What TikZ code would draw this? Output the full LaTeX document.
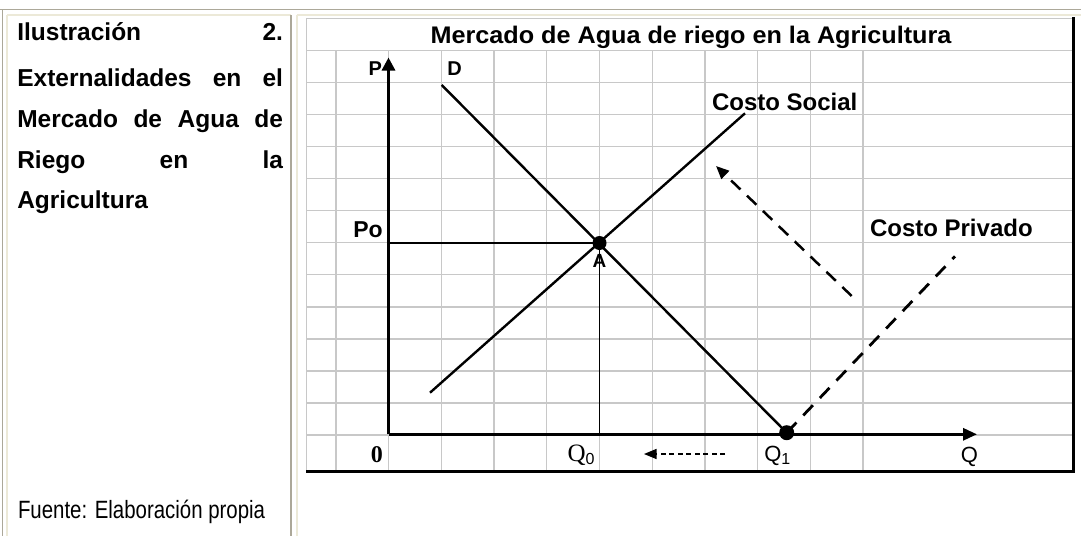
\documentclass[tikz,border=0pt]{standalone}
\usepackage{fontspec}
\usepackage{graphicx}
\setmainfont{Liberation Sans}
\newfontfamily\timesf{Liberation Serif}
\usetikzlibrary{arrows.meta}
\definecolor{tblgray}{RGB}{172,168,153}
\definecolor{tblcream}{RGB}{236,233,216}
\definecolor{gridgray}{RGB}{200,200,200}
\tikzset{
  txt/.style={inner sep=0pt, outer sep=0pt},
  headtxt/.style={txt, anchor=base west, font=\fontsize{24.5}{28}\selectfont\bfseries},
  chartlbl/.style={txt, font=\fontsize{24}{28}\selectfont\bfseries},
  axlbl/.style={txt, anchor=base, font=\fontsize{20}{24}\selectfont\bfseries},
  gridline/.style={gridgray, line width=1.3pt},
  axisline/.style={black, line width=3pt},
  curveline/.style={black, line width=2.4pt},
  guideline/.style={black, line width=1.3pt},
  bigdash/.style={black, line width=2.8pt, dash pattern=on 14pt off 10pt},
  smalldash/.style={black, line width=1.3pt, dash pattern=on 5pt off 3.5pt},
  dot/.style={circle, fill=black, inner sep=0pt},
}
\begin{document}
\begin{tikzpicture}[x=1pt,y=-1pt]
\useasboundingbox (0,0) rectangle (1081,536);
\fill[white] (0,0) rectangle (1081,536);
% table borders
\draw[tblgray, line width=1.8pt] (0,9.5) -- (1081,9.5);
\draw[tblgray, line width=1.8pt] (2.5,9.5) -- (2.5,536);
\draw[tblcream, line width=1.8pt] (7.3,15) -- (7.3,536);
\draw[tblcream, line width=1.8pt] (7.3,15) -- (290.7,15);
\draw[tblgray, line width=1.8pt] (290.7,15) -- (290.7,536);
\draw[tblcream, line width=1.8pt] (296.7,15) -- (296.7,536);
\draw[tblcream, line width=1.8pt] (296.7,15) -- (1081,15);
% left column text
\node[headtxt] (l1) at (17.3,40.5) {\makebox[265.7pt][s]{Ilustración 2.}};
\node[headtxt] (l2) at (17.3,86.5) {\makebox[265.7pt][s]{Externalidades en el}};
\node[headtxt] (l3) at (17.3,127.5) {\makebox[265.7pt][s]{Mercado de Agua de}};
\node[headtxt] (l4) at (17.3,168) {\makebox[265.7pt][s]{Riego en la}};
\node[headtxt] (l5) at (17.3,208) {Agricultura};
\node[txt, anchor=base west, font=\fontsize{25}{28}\selectfont] (fuente) at (18,518) {\scalebox{0.817}[1]{Fuente: Elaboración propia}};
% chart grid
\foreach \k in {0,...,10} {
  \draw[gridline] ({336+52.7*\k},50.7) -- ({336+52.7*\k},471.7);
}
\foreach \k in {0,...,12} {
  \draw[gridline] (307,{50.7+32.02*\k}) -- (1073,{50.7+32.02*\k});
}
\draw[gridline] (307,18.3) -- (1073,18.3);
\draw[gridline] (306.7,18.3) -- (306.7,471.7);
\draw[black, line width=3.3pt] (1073.5,17) -- (1073.5,473.3);
\draw[black, line width=3.3pt] (306,471.7) -- (1075.2,471.7);
% title
\node[chartlbl, anchor=base] (title) at (691,43.3) {\scalebox{1.05}[1]{Mercado de Agua de riego en la Agricultura}};
% coordinates
\coordinate (O) at (388.5,434.3);
\coordinate (Ptip) at (388.5,57.5);
\coordinate (Qtip) at (977,434.3);
\coordinate (A) at (599.5,243);
\coordinate (Q1) at (786.7,432.7);
\coordinate (Dtop) at (441.7,85);
\coordinate (CSlow) at (430,392.7);
\coordinate (CShigh) at (745,113.3);
\coordinate (PoAx) at (388.5,243);
\coordinate (Q0Ax) at (599.5,434.3);
\coordinate (CPend) at (955,256.3);
\coordinate (UpStart) at (851.7,296);
\coordinate (UpTip) at (716,166);
\coordinate (LStart) at (725,454);
\coordinate (LTip) at (644,454);
% A label (below dot)
\node[txt, anchor=base, font=\fontsize{19}{22}\selectfont\bfseries] (Albl) at (599.5,267.3) {A};
% axes
\draw[axisline, -{Triangle[length=13pt,width=13pt]}] (O) -- (Ptip);
\draw[axisline, -{Triangle[length=14pt,width=12pt]}] (O) -- (Qtip);
% guide lines
\draw[guideline] (PoAx) -- (A);
\draw[guideline] (A) -- (Q0Ax);
% curves
\draw[curveline] (Dtop) -- (Q1);
\draw[curveline] (CSlow) -- (CShigh);
\draw[bigdash] (Q1) -- (CPend);
\draw[black, line width=2.5pt, dash pattern=on 13pt off 9pt, -{Triangle[length=13pt,width=11pt]}] (UpStart) -- (UpTip);
\draw[smalldash, -{Triangle[length=12.5pt,width=10pt]}] (LStart) -- (LTip);
% dots
\node[dot, minimum size=14pt] (Adot) at (A) {};
\node[dot, minimum size=15pt] (Q1dot) at (Q1) {};
% labels
\node[axlbl] (Plbl) at (375.3,75) {P};
\node[axlbl] (Dlbl) at (454.5,75) {D};
\node[chartlbl, anchor=base west] (CSlbl) at (712,110) {Costo Social};
\node[chartlbl, anchor=base west] (CPlbl) at (870,236) {Costo Privado};
\node[txt, anchor=base west, font=\fontsize{23}{26}\selectfont\bfseries] (Polbl) at (353.3,237.3) {Po};
\node[txt, anchor=base, font=\fontsize{24}{26}\selectfont\timesf\bfseries] (Zlbl) at (376.8,462.7) {0};
\node[txt, anchor=base west, font=\fontsize{25}{28}\selectfont\timesf] (Q0lbl) at (567.5,461) {Q\raisebox{-3pt}{\fontsize{16}{18}\selectfont\rmfamily 0}};
\node[txt, anchor=base west, font=\fontsize{22}{25}\selectfont] (Q1lbl) at (764.3,461.7) {Q\raisebox{-3pt}{\fontsize{16}{18}\selectfont 1}};
\node[txt, anchor=base, font=\fontsize{22}{25}\selectfont] (Qlbl) at (969.5,462.7) {Q};
\end{tikzpicture}
\end{document}
